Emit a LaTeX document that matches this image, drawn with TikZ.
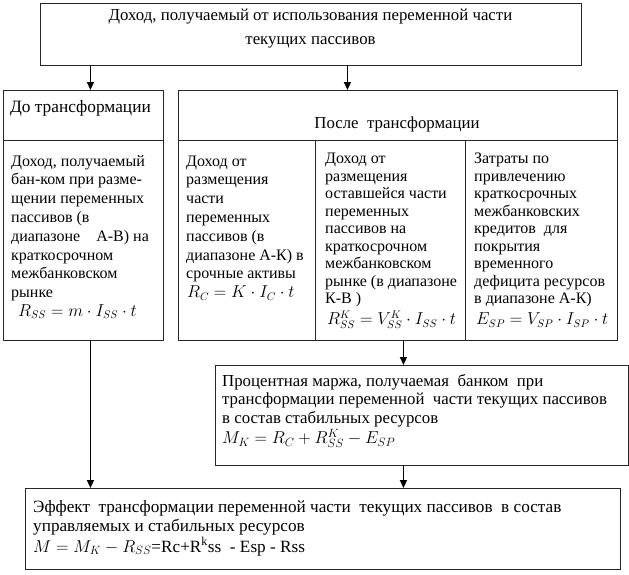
\documentclass[tikz,border=0pt]{standalone}
\usepackage{fontspec}
\setmainfont{Liberation Serif}
\usetikzlibrary{arrows.meta}
\begin{document}
\begin{tikzpicture}[x=1pt,y=-1pt,
  box/.style={draw=black!85, line width=0.9pt, inner sep=0pt, anchor=north west},
  txt/.style={inner sep=0pt, anchor=base west, font=\fontsize{16}{18.8}\selectfont},
  tighttxt/.style={txt, font=\fontsize{16}{17.5}\selectfont},
  bigtxt/.style={txt, font=\fontsize{16.8}{18.8}\selectfont},
  ctxt/.style={inner sep=0pt, anchor=base, font=\fontsize{16.8}{24}\selectfont},
  arr/.style={line width=1.4pt, -{Triangle[length=8pt,width=7pt]}}]
\useasboundingbox (0,0) rectangle (629,574);
% boxes
\node[box, minimum width=541pt, minimum height=62pt] (top) at (40,3) {};
\node[box, minimum width=160pt, minimum height=50pt] (bhead) at (3,90) {};
\node[box, minimum width=160pt, minimum height=200pt] (bbody) at (3,140) {};
\node[box, minimum width=439pt, minimum height=50pt] (ahead) at (178,90) {};
\node[box, minimum width=137pt, minimum height=200pt] (c1) at (178,140) {};
\node[box, minimum width=150pt, minimum height=200pt] (c2) at (315,140) {};
\node[box, minimum width=152pt, minimum height=200pt] (c3) at (465,140) {};
\node[box, minimum width=413pt, minimum height=100pt] (marg) at (215,365) {};
\node[box, minimum width=595pt, minimum height=81pt] (eff) at (25,488) {};
% texts
\node[ctxt] (ttop) at (310.5,20) {\parbox[t]{520pt}{\centering\baselineskip=24pt
  Доход, получаемый от использования переменной части\\текущих пассивов}};
\node[txt, font=\fontsize{17.3}{19}\selectfont] (tbhead) at (10,112) {До трансформации};
\node[ctxt] (tahead) at (397,128) {После\ \ трансформации};
\node[txt] (tbbody) at (11,166) {\parbox[t]{150pt}{\raggedright
  Доход, получаемый\\бан-ком при разме-\\щении переменных\\пассивов (в\\диапазоне\ \ \ \ А-В) на\\краткосрочном\\межбанковском\\рынке\\
  \hspace*{7pt}$R_{SS}=m\cdot I_{SS}\cdot t$}};
\node[txt] (tc1) at (186,166) {\parbox[t]{130pt}{\raggedright
  Доход от\\размещения\\части\\переменных\\пассивов (в\\диапазоне А-К) в\\срочные активы\\
  \hspace*{1pt}$R_C=K\cdot I_C\cdot t$}};
\node[tighttxt] (tc2) at (325,163.5) {\parbox[t]{140pt}{\raggedright
  Доход от\\размещения\\оставшейся части\\переменных\\пассивов на\\краткосрочном\\межбанковском\\рынке (в диапазоне\\К-В )\\[3.5pt]
  \hspace*{2pt}$R^K_{SS}=V^K_{SS}\cdot I_{SS}\cdot t$}};
\node[tighttxt] (tc3) at (474,163.5) {\parbox[t]{140pt}{\raggedright
  Затраты по\\привлечению\\краткосрочных\\межбанковских\\кредитов\ \ для\\покрытия\\временного\\дефицита ресурсов\\в диапазоне А-К)\\[3.5pt]
  \hspace*{2pt}$E_{SP}=V_{SP}\cdot I_{SP}\cdot t$}};
\node[bigtxt] (tmarg) at (222,386) {\parbox[t]{400pt}{\raggedright
  Процентная маржа, получаемая\ \ банком\ \ при\\трансформации переменной\ \ части текущих пассивов\\в состав стабильных ресурсов\\[1pt]
  $M_K=R_C+R^K_{SS}-E_{SP}$}};
\node[txt, font=\fontsize{17.2}{19}\selectfont] (teff) at (33,512.5) {\parbox[t]{580pt}{\raggedright
  Эффект\ \ трансформации переменной части\ \ текущих пассивов\ \ в состав\\управляемых и стабильных ресурсов\\[1.5pt]
  $M=M_K-R_{SS}$=Rc+R\textsuperscript{k}ss\ \ - Esp - Rss}};
% arrows
\draw[arr] ([xshift=7pt]bhead.north |- top.south) -- ([xshift=7pt]bhead.north);
\draw[arr] ([xshift=36.5pt]top.south) -- ([xshift=36.5pt]top.south |- ahead.north);
\draw[arr] ([xshift=7pt]bbody.south) -- ([xshift=7pt]bbody.south |- eff.north);
\draw[arr] ([xshift=13pt]c2.south) -- ([xshift=13pt]c2.south |- marg.north);
\draw[arr] ([xshift=-18.5pt]marg.south) -- ([xshift=-18.5pt]marg.south |- eff.north);
\end{tikzpicture}
\end{document}
